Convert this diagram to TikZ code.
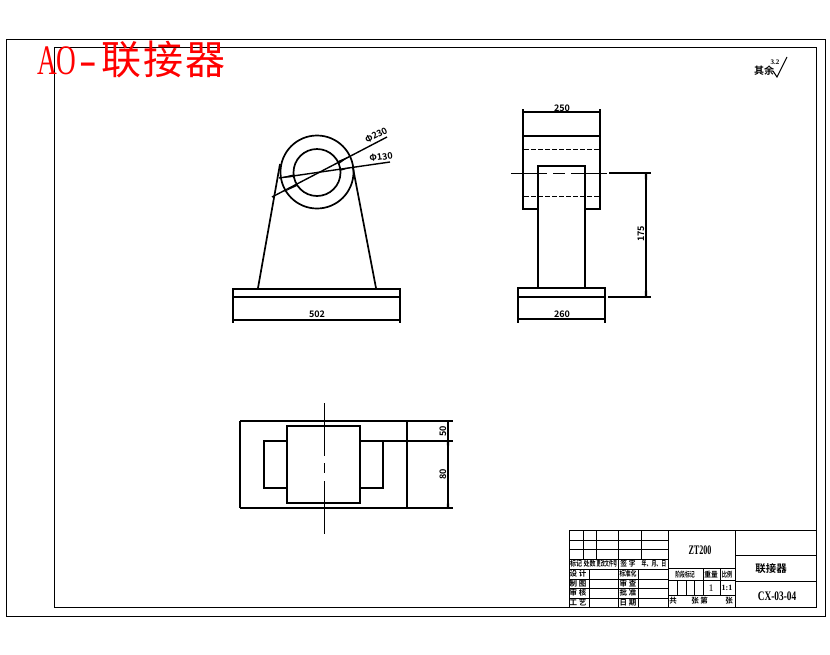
\documentclass[tikz,border=0pt]{standalone}
\usepackage{fontspec}
\setmainfont{Liberation Serif}
\newfontfamily\cjk{Noto Sans CJK SC}[BoldFont={* Bold}]
\newcommand{\px}[1]{\fontsize{#1}{#1}\selectfont}
\newcommand{\nar}[2]{\scalebox{#1}[1]{#2}}
\tikzset{
  frame/.style={draw=black,line width=1pt},
  part/.style={draw=black,line width=1.7pt},
  thin part/.style={draw=black,line width=1pt},
  hidden/.style={draw=black,line width=0.9pt,dash pattern=on 5pt off 2pt},
  dimline/.style={draw=black,line width=1.4pt},
  grid/.style={draw=black,line width=0.9pt},
  dimtext/.style={inner sep=0pt,font=\cjk\bfseries\px{9}},
  cell/.style={inner sep=0pt,font=\cjk\bfseries\px{7.5}},
  big cell/.style={inner sep=0pt,font=\cjk\bfseries\px{10.5}},
  serif cell/.style={inner sep=0pt,font=\bfseries\px{13}},
  tip/.style={fill=black,draw=none}
}
\begin{document}
\begin{tikzpicture}[x=1pt,y=-1pt]
\useasboundingbox (0,0) rectangle (830,654);
\fill[white] (0,0) rectangle (830,654);
% frames
\draw[frame] (6,39) rectangle (825,616);
\draw[frame] (54,47) rectangle (816,607);
\node[anchor=west,inner sep=0pt,text=red,font=\px{42}] (title) at (37,59) {\nar{.65}{AO}\hspace{3pt}\nar{1.25}{-}\hspace{4pt}{\cjk\px{40}联\hspace{2pt}接\hspace{2pt}器}};
% roughness
\node[inner sep=0pt,font=\cjk\bfseries\px{10}] (rest) at (764,71) {其余};
\node[inner sep=0pt,font=\bfseries\px{7}] (rough) at (775,62) {3.2};
\coordinate (ra) at (773,71);
\coordinate (rb) at (777,77);
\coordinate (rc) at (787,57);
\draw[thin part] (ra) -- (rb) -- (rc);
% front view
\draw[part] (317,172) circle (36.5);
\draw[part] (317,172.5) circle (23.5);
\draw[part] (280,164) -- (258,288);
\draw[part] (353,168) -- (376,288);
\draw[part] (233,289) rectangle (400,297);
\draw[dimline] (233,297) -- (233,323);
\draw[dimline] (400,297) -- (400,323);
\draw[dimline] (233,320) -- (400,320);
\fill[tip] (233,319) -- (247,319.3) -- (247,320.7) -- (233,321) -- cycle;
\fill[tip] (400,319) -- (386,319.3) -- (386,320.7) -- (400,321) -- cycle;
\node[dimtext] (d502) at (317,314) {502};
\coordinate (la) at (272,197);
\coordinate (lb) at (387,137);
\coordinate (lc) at (279,178);
\coordinate (ld) at (390,162);
\draw[dimline] (la) -- (lb);
\draw[dimline] (lc) -- (ld);
\fill[tip] (279,178) -- (293,174.5) -- (294,177) -- cycle;
\fill[tip] (353,167) -- (340,169) -- (340,171) -- cycle;
\fill[tip] (284,192) -- (296,184) -- (297,186) -- cycle;
\fill[tip] (350,156) -- (338,161) -- (339,164) -- cycle;
\node[dimtext,rotate=27] (d230) at (376,135) {Φ230};
\node[dimtext,rotate=8] (d130) at (381,157) {Φ130};
% side view
\draw[part] (523,109) -- (523,209) -- (538,209);
\draw[part] (600,109) -- (600,209) -- (585,209);
\draw[part] (523,136) -- (600,136);
\draw[dimline] (523,112) -- (600,112);
\fill[tip] (523,111) -- (537,111.3) -- (537,112.7) -- (523,113) -- cycle;
\fill[tip] (600,111) -- (586,111.3) -- (586,112.7) -- (600,113) -- cycle;
\node[dimtext] (d250) at (562,108) {250};
\draw[hidden] (524,149) -- (599,149);
\draw[hidden] (524,196) -- (599,196);
\draw[part] (538,288) -- (538,166) -- (585,166) -- (585,288);
\draw[black,line width=0.9pt,dash pattern=on 36pt off 6pt on 12pt off 6pt] (511,173) -- (608,173);
\draw[part] (518,288) rectangle (605,297);
\draw[dimline] (518,297) -- (518,323);
\draw[dimline] (605,297) -- (605,323);
\draw[dimline] (518,319) -- (605,319);
\fill[tip] (518,318) -- (532,318.3) -- (532,319.7) -- (518,320) -- cycle;
\fill[tip] (605,318) -- (591,318.3) -- (591,319.7) -- (605,320) -- cycle;
\node[dimtext] (d260) at (562,314) {260};
\draw[dimline] (609,173) -- (651,173);
\draw[dimline] (608,297) -- (651,297);
\draw[dimline] (646,173) -- (646,297);
\fill[tip] (644.8,173) -- (647.2,173) -- (646.8,186) -- (645.2,186) -- cycle;
\fill[tip] (644.8,297) -- (647.2,297) -- (646.8,284) -- (645.2,284) -- cycle;
\node[dimtext,rotate=90] (d175) at (641,234) {175};
% top view
\draw[part] (240,421) -- (240,508);
\draw[part] (240,421) -- (453,421);
\draw[part] (240,508) -- (453,508);
\draw[part] (407,421) -- (407,508);
\draw[part] (287,426) rectangle (360,503);
\draw[part] (287,441) -- (264,441) -- (264,488) -- (287,488);
\draw[part] (360,441) -- (383,441) -- (383,488) -- (360,488);
\draw[dimline] (383,441) -- (453,441);
\draw[dimline] (448,421) -- (448,508);
\fill[tip] (446.8,441) -- (449.2,441) -- (448.8,450) -- (447.2,450) -- cycle;
\fill[tip] (446.8,508) -- (449.2,508) -- (448.8,499) -- (447.2,499) -- cycle;
\node[dimtext,rotate=90] (d50) at (443,431) {50};
\node[dimtext,rotate=90] (d80) at (443,474) {80};
\draw[thin part] (324,403) -- (324,456);
\draw[thin part] (324,463) -- (324,473);
\draw[thin part] (324,481) -- (324,534);
% title block
\draw[frame] (569,530) rectangle (816,607);
\draw[grid] (668,530) -- (668,607);
\draw[grid] (735,530) -- (735,607);
\draw[grid] (569,540) -- (668,540);
\draw[grid] (569,549) -- (668,549);
\draw[grid] (569,559) -- (668,559);
\draw[grid] (569,569) -- (668,569);
\draw[grid] (569,579) -- (668,579);
\draw[grid] (569,588) -- (668,588);
\draw[grid] (569,598) -- (668,598);
\draw[grid] (583,530) -- (583,559);
\draw[grid] (596,530) -- (596,559);
\draw[grid] (618,530) -- (618,607);
\draw[grid] (641,530) -- (641,559);
\draw[grid] (589,569) -- (589,607);
\draw[grid] (638,569) -- (638,607);
\draw[grid] (668,568) -- (735,568);
\draw[grid] (668,580) -- (735,580);
\draw[grid] (668,595) -- (735,595);
\draw[grid] (703,568) -- (703,595);
\draw[grid] (720,568) -- (720,595);
\draw[grid] (677,580) -- (677,595);
\draw[grid] (686,580) -- (686,595);
\draw[grid] (694,580) -- (694,595);
\draw[grid] (735,555) -- (816,555);
\draw[grid] (735,581) -- (816,581);
\node[cell] (t1) at (576,564) {\nar{.8}{标记}};
\node[cell] (t2) at (589.5,564) {\nar{.8}{处数}};
\node[cell] (t3) at (607,564) {\nar{.55}{更改文件号}};
\node[cell] (t4) at (628,564) {\nar{.9}{签 字}};
\node[cell] (t5) at (654,564) {\nar{.66}{年、月、日}};
\node[cell] (t6) at (578,574) {设 计};
\node[cell] (t7) at (578,584) {制 图};
\node[cell] (t8) at (578,593) {审 核};
\node[cell] (t9) at (578,603) {工 艺};
\node[cell] (t10) at (628,574) {\nar{.75}{标准化}};
\node[cell] (t11) at (628,584) {审 查};
\node[cell] (t12) at (628,593) {批 准};
\node[cell] (t13) at (628,603) {日 期};
\node[serif cell] (zt) at (700,550) {\nar{.62}{ZT200}};
\node[cell] (t14) at (685,575) {\nar{.65}{阶段标记}};
\node[cell] (t15) at (711,575) {\nar{.9}{重量}};
\node[cell] (t16) at (727,575) {\nar{.7}{比例}};
\node[inner sep=0pt,font=\px{10}] (t17) at (711,588) {1};
\node[inner sep=0pt,font=\bfseries\px{8}] (t18) at (727,588) {1:1};
\node[cell] (t19) at (673,601) {共};
\node[cell] (t20) at (695,601) {张};
\node[cell] (t21) at (704,601) {第};
\node[cell] (t22) at (729,601) {张};
\node[big cell] (name) at (771,569) {联接器};
\node[serif cell] (code) at (777,596) {\nar{.72}{CX-03-04}};
\end{tikzpicture}
\end{document}
